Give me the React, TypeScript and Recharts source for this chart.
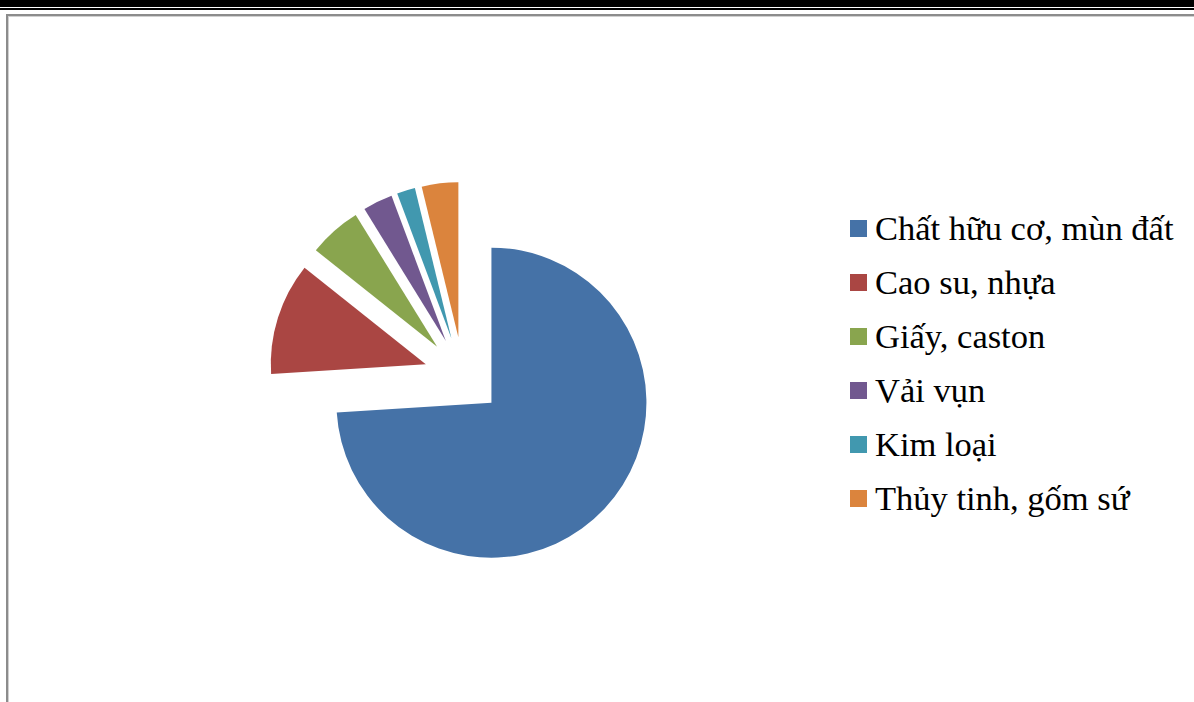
import { PieChart, Pie, Cell, Legend } from 'recharts';

const categories = [
  'Chất hữu cơ, mùn đất',
  'Cao su, nhựa',
  'Giấy, caston',
  'Vải vụn',
  'Kim loại',
  'Thủy tinh, gốm sứ',
];
const shares = [74.0, 11.7, 5.5, 3.1, 1.9, 3.8];
const colors = ['#4572A7', '#AA4643', '#89A54E', '#71588F', '#4198AF', '#DB843D'];

const data = categories.map((name, i) => ({ name, value: shares[i] }));

const WIDTH = 1194;
const HEIGHT = 702;
const CX = 463;
const CY = 376;
const RADIUS = 155;
const EXPLODE = 39;

const total = shares.reduce((a, b) => a + b, 0);

// every slice is pulled out along its own middle angle (clockwise from 12 o'clock)
function explodeOffset(index: number) {
  const before = shares.slice(0, index).reduce((a, b) => a + b, 0);
  const mid = ((before + shares[index] / 2) / total) * 2 * Math.PI;
  return { dx: EXPLODE * Math.sin(mid), dy: -EXPLODE * Math.cos(mid) };
}

function LegendBox() {
  return (
    <div style={{ fontFamily: '"Liberation Serif", "Times New Roman", serif', fontSize: 34.5, color: '#000' }}>
      {categories.map((name, i) => (
        <div key={name} style={{ display: 'flex', alignItems: 'center', height: 54, whiteSpace: 'nowrap' }}>
          <span style={{ width: 17, height: 17, background: colors[i], display: 'inline-block', marginRight: 8 }} />
          <span>{name}</span>
        </div>
      ))}
    </div>
  );
}

export default function App() {
  return (
    <div style={{ position: 'absolute', left: 0, top: 0, width: WIDTH, height: HEIGHT, background: '#fff', overflow: 'hidden' }}>
      <div style={{ position: 'absolute', left: 0, top: 0, width: WIDTH, height: 7, background: '#000' }} />
      <div style={{ position: 'absolute', left: 0, top: 8, width: WIDTH, height: 2, background: '#000' }} />
      <div style={{ position: 'absolute', left: 6, top: 14, width: WIDTH - 6, height: 2, background: '#8c8c8c' }} />
      <div style={{ position: 'absolute', left: 6, top: 16, width: WIDTH - 6, height: 1, background: '#d0d0d0' }} />
      <div style={{ position: 'absolute', left: 6, top: 14, width: 2, height: HEIGHT - 14, background: '#8c8c8c' }} />
      <div style={{ position: 'absolute', left: 8, top: 16, width: 1, height: HEIGHT - 16, background: '#d0d0d0' }} />
      <div style={{ position: 'absolute', left: 0, top: 0 }}>
        <PieChart width={WIDTH} height={HEIGHT} margin={{ top: 0, right: 0, bottom: 0, left: 0 }}>
          {categories.map((name, idx) => {
            const { dx, dy } = explodeOffset(idx);
            return (
              <Pie
                key={name}
                data={data}
                dataKey="value"
                nameKey="name"
                cx={CX + dx}
                cy={CY + dy}
                outerRadius={RADIUS}
                startAngle={90}
                endAngle={-270}
                stroke="none"
                legendType="none"
                isAnimationActive={false}
              >
                {data.map((d, i) => (
                  <Cell key={d.name} fill={i === idx ? colors[i] : 'transparent'} />
                ))}
              </Pie>
            );
          })}
          <Legend
            content={() => <LegendBox />}
            wrapperStyle={{ position: 'absolute', left: 850, top: 201, width: 344 }}
          />
        </PieChart>
      </div>
    </div>
  );
}
